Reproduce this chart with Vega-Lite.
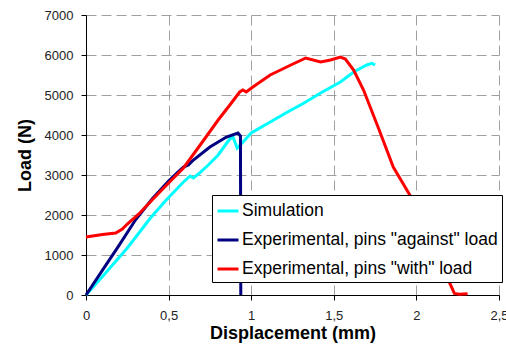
{
  "$schema": "https://vega.github.io/schema/vega-lite/v6.json",
  "width": 413,
  "height": 280,
  "autosize": {"type": "none"},
  "padding": {"left": 86, "top": 15, "right": 7, "bottom": 52},
  "background": "white",
  "config": {
    "view": {"stroke": null},
    "font": "Liberation Sans",
    "axis": {
      "domainColor": "black",
      "domainWidth": 1,
      "tickColor": "black",
      "tickSize": 5,
      "labelFont": "Liberation Sans",
      "labelFontSize": 13,
      "labelColor": "#222",
      "titleFont": "Liberation Sans",
      "titleFontSize": 18,
      "titleFontWeight": "bold",
      "titleColor": "black",
      "gridColor": "#a0a0a0",
      "gridDash": [10, 5],
      "gridWidth": 1
    }
  },
  "datasets": {
    "curves": [
      {"s": "Simulation", "d": 0, "load": 0},
      {"s": "Simulation", "d": 0.1, "load": 460},
      {"s": "Simulation", "d": 0.25, "load": 1175},
      {"s": "Simulation", "d": 0.39, "load": 1925},
      {"s": "Simulation", "d": 0.48, "load": 2350},
      {"s": "Simulation", "d": 0.59, "load": 2825},
      {"s": "Simulation", "d": 0.63, "load": 2975},
      {"s": "Simulation", "d": 0.65, "load": 2925},
      {"s": "Simulation", "d": 0.68, "load": 3025},
      {"s": "Simulation", "d": 0.74, "load": 3250},
      {"s": "Simulation", "d": 0.8, "load": 3500},
      {"s": "Simulation", "d": 0.87, "load": 3900},
      {"s": "Simulation", "d": 0.89, "load": 3950},
      {"s": "Simulation", "d": 0.915, "load": 3675},
      {"s": "Simulation", "d": 0.94, "load": 3775},
      {"s": "Simulation", "d": 1.0, "load": 4050},
      {"s": "Simulation", "d": 1.115, "load": 4325},
      {"s": "Simulation", "d": 1.22, "load": 4575},
      {"s": "Simulation", "d": 1.32, "load": 4800},
      {"s": "Simulation", "d": 1.42, "load": 5050},
      {"s": "Simulation", "d": 1.54, "load": 5325},
      {"s": "Simulation", "d": 1.62, "load": 5575},
      {"s": "Simulation", "d": 1.7, "load": 5750},
      {"s": "Simulation", "d": 1.73, "load": 5790},
      {"s": "Simulation", "d": 1.75, "load": 5750},
      {"s": "Experimental, pins \"against\" load", "d": 0, "load": 0},
      {"s": "Experimental, pins \"against\" load", "d": 0.1, "load": 620},
      {"s": "Experimental, pins \"against\" load", "d": 0.2, "load": 1240},
      {"s": "Experimental, pins \"against\" load", "d": 0.3, "load": 1880},
      {"s": "Experimental, pins \"against\" load", "d": 0.4, "load": 2400},
      {"s": "Experimental, pins \"against\" load", "d": 0.5, "load": 2850},
      {"s": "Experimental, pins \"against\" load", "d": 0.55, "load": 3050},
      {"s": "Experimental, pins \"against\" load", "d": 0.59, "load": 3200},
      {"s": "Experimental, pins \"against\" load", "d": 0.62, "load": 3250},
      {"s": "Experimental, pins \"against\" load", "d": 0.65, "load": 3375},
      {"s": "Experimental, pins \"against\" load", "d": 0.75, "load": 3700},
      {"s": "Experimental, pins \"against\" load", "d": 0.85, "load": 3950},
      {"s": "Experimental, pins \"against\" load", "d": 0.92, "load": 4050},
      {"s": "Experimental, pins \"against\" load", "d": 0.935, "load": 3975},
      {"s": "Experimental, pins \"against\" load", "d": 0.937, "load": 0},
      {"s": "Experimental, pins \"with\" load", "d": 0, "load": 1450},
      {"s": "Experimental, pins \"with\" load", "d": 0.05, "load": 1480},
      {"s": "Experimental, pins \"with\" load", "d": 0.1, "load": 1510},
      {"s": "Experimental, pins \"with\" load", "d": 0.18, "load": 1550},
      {"s": "Experimental, pins \"with\" load", "d": 0.22, "load": 1650},
      {"s": "Experimental, pins \"with\" load", "d": 0.25, "load": 1775},
      {"s": "Experimental, pins \"with\" load", "d": 0.32, "load": 2025},
      {"s": "Experimental, pins \"with\" load", "d": 0.4, "load": 2375},
      {"s": "Experimental, pins \"with\" load", "d": 0.5, "load": 2800},
      {"s": "Experimental, pins \"with\" load", "d": 0.59, "load": 3175},
      {"s": "Experimental, pins \"with\" load", "d": 0.7, "load": 3800},
      {"s": "Experimental, pins \"with\" load", "d": 0.8, "load": 4375},
      {"s": "Experimental, pins \"with\" load", "d": 0.88, "load": 4800},
      {"s": "Experimental, pins \"with\" load", "d": 0.93, "load": 5075},
      {"s": "Experimental, pins \"with\" load", "d": 0.95, "load": 5125},
      {"s": "Experimental, pins \"with\" load", "d": 0.97, "load": 5075},
      {"s": "Experimental, pins \"with\" load", "d": 1.01, "load": 5200},
      {"s": "Experimental, pins \"with\" load", "d": 1.115, "load": 5500},
      {"s": "Experimental, pins \"with\" load", "d": 1.24, "load": 5750},
      {"s": "Experimental, pins \"with\" load", "d": 1.33, "load": 5925},
      {"s": "Experimental, pins \"with\" load", "d": 1.42, "load": 5825},
      {"s": "Experimental, pins \"with\" load", "d": 1.48, "load": 5875},
      {"s": "Experimental, pins \"with\" load", "d": 1.54, "load": 5950},
      {"s": "Experimental, pins \"with\" load", "d": 1.57, "load": 5900},
      {"s": "Experimental, pins \"with\" load", "d": 1.62, "load": 5625},
      {"s": "Experimental, pins \"with\" load", "d": 1.68, "load": 5125},
      {"s": "Experimental, pins \"with\" load", "d": 1.77, "load": 4175},
      {"s": "Experimental, pins \"with\" load", "d": 1.86, "load": 3200},
      {"s": "Experimental, pins \"with\" load", "d": 1.96, "load": 2500},
      {"s": "Experimental, pins \"with\" load", "d": 2.23, "load": 40},
      {"s": "Experimental, pins \"with\" load", "d": 2.26, "load": 20},
      {"s": "Experimental, pins \"with\" load", "d": 2.31, "load": 30}
    ]
  },
  "data": {"name": "curves"},
  "encoding": {
    "x": {
      "field": "d",
      "type": "quantitative",
      "title": "Displacement (mm)",
      "scale": {"domain": [0, 2.5], "nice": false},
      "axis": {
        "values": [0, 0.5, 1, 1.5, 2, 2.5],
        "format": "~g",
        "labelExpr": "replace(datum.label, '.', ',')",
        "labelFlush": false,
        "labelOverlap": false,
        "labelPadding": 9,
        "titlePadding": 2
      }
    },
    "y": {
      "field": "load",
      "type": "quantitative",
      "title": "Load (N)",
      "scale": {"domain": [0, 7000], "nice": false},
      "axis": {
        "values": [0, 1000, 2000, 3000, 4000, 5000, 6000, 7000],
        "format": "d",
        "labelPadding": 8,
        "titlePadding": 10
      }
    },
    "color": {
      "field": "s",
      "type": "nominal",
      "scale": {
        "domain": ["Simulation", "Experimental, pins \"against\" load", "Experimental, pins \"with\" load"],
        "range": ["#00FFFF", "#000080", "#FF0000"]
      },
      "legend": {
        "orient": "none",
        "legendX": 126,
        "legendY": 180,
        "title": null,
        "symbolType": "stroke",
        "symbolSize": 441,
        "symbolStrokeWidth": 3,
        "labelFont": "Liberation Sans",
        "labelFontSize": 17.5,
        "labelColor": "black",
        "labelLimit": 500,
        "labelOffset": 2,
        "rowPadding": 8,
        "padding": 4,
        "strokeColor": "black",
        "fillColor": "white"
      }
    },
    "order": {"value": null}
  },
  "layer": [
    {
      "transform": [{"filter": "datum.s == 'Simulation'"}],
      "mark": {"type": "line", "strokeWidth": 3}
    },
    {
      "transform": [{"filter": "indexof(datum.s, 'against') >= 0"}],
      "mark": {"type": "line", "strokeWidth": 3}
    },
    {
      "transform": [{"filter": "indexof(datum.s, 'with') >= 0"}],
      "mark": {"type": "line", "strokeWidth": 3}
    }
  ]
}
